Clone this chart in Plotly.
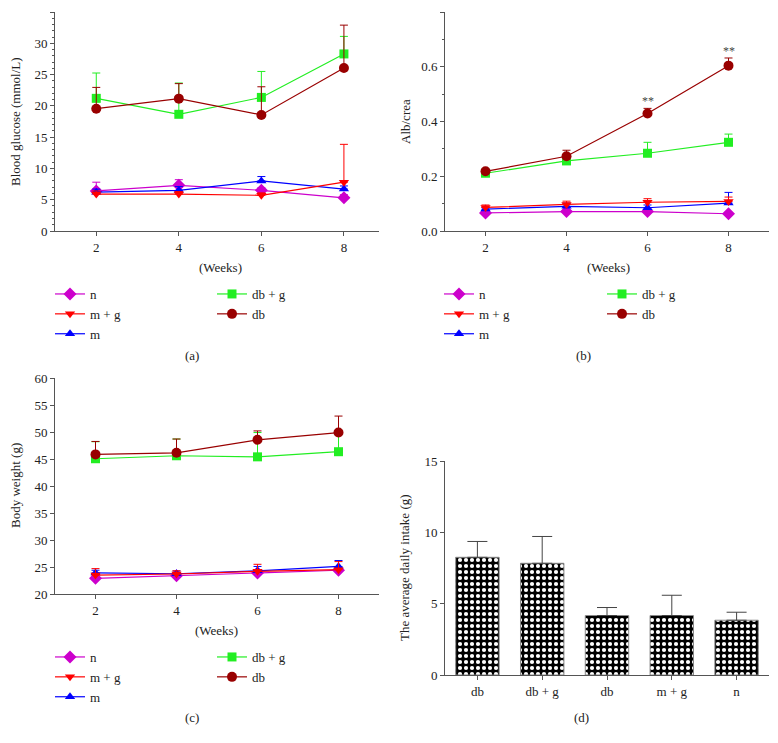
import plotly.graph_objects as go
from plotly.subplots import make_subplots

weeks = [2, 4, 6, 8]

# (a) Blood glucose (mmol/L): means and upper error (SD)
glu_n = [6.4, 7.3, 6.5, 5.3]
glu_n_err = [1.4, 0.9, 0.4, 0.5]
glu_mg = [5.9, 5.9, 5.7, 7.8]
glu_mg_err = [0.5, 0.4, 0.4, 6.05]
glu_m = [6.2, 6.5, 8.0, 6.7]
glu_m_err = [0.5, 0.6, 0.7, 0.5]
glu_dbg = [21.2, 18.65, 21.35, 28.3]
glu_dbg_err = [4.05, 5.0, 4.15, 2.8]
glu_db = [19.55, 21.15, 18.55, 26.05]
glu_db_err = [3.4, 2.4, 4.5, 6.85]

# (b) Alb/crea
alb_n = [0.066, 0.071, 0.071, 0.063]
alb_n_err = [0.005, 0.005, 0.005, 0.005]
alb_mg = [0.086, 0.097, 0.105, 0.108]
alb_mg_err = [0.009, 0.012, 0.013, 0.016]
alb_m = [0.080, 0.090, 0.085, 0.102]
alb_m_err = [0.006, 0.012, 0.010, 0.039]
alb_dbg = [0.211, 0.256, 0.284, 0.324]
alb_dbg_err = [0.005, 0.008, 0.040, 0.030]
alb_db = [0.218, 0.273, 0.429, 0.604]
alb_db_err = [0.006, 0.022, 0.019, 0.028]
alb_star_x = [6, 8]
alb_star_y = [0.474, 0.656]
alb_star_text = ["**", "**"]

# (c) Body weight (g)
bw_n = [22.9, 23.4, 23.9, 24.4]
bw_n_err = [0.3, 0.3, 0.3, 0.3]
bw_mg = [23.5, 23.7, 24.2, 24.5]
bw_mg_err = [1.2, 0.6, 1.3, 1.5]
bw_m = [23.9, 23.75, 24.3, 25.1]
bw_m_err = [0.5, 0.5, 0.8, 1.1]
bw_dbg = [45.05, 45.6, 45.4, 46.35]
bw_dbg_err = [3.15, 3.1, 4.5, 3.6]
bw_db = [45.85, 46.15, 48.55, 49.9]
bw_db_err = [2.4, 2.55, 1.65, 3.05]

# (d) Average daily intake (g)
intake_labels = ["db", "db + g", "db", "m + g", "n"]
intake_values = [8.25, 7.83, 4.17, 4.17, 3.84]
intake_err = [1.11, 1.88, 0.56, 1.42, 0.56]

group_names = ["n", "m + g", "m", "db + g", "db"]
group_colors = ["#CC00CC", "#FF0000", "#0000FF", "#22EE22", "#990000"]
group_symbols = ["diamond", "triangle-down", "triangle-up", "square", "circle"]
group_sizes = [10, 9, 9, 9, 10]

FONT = "'Liberation Serif', 'Times New Roman', Times, serif"
AX = "#555555"
TXT = "#222222"

# page body has an 8px default margin; figure is sized/positioned to compensate
OFF = 8
FW, FH = 778 - 2 * OFF, 743 - 2 * OFF

def px_x(px):
    return (px - OFF) / FW

def px_y(py):
    return 1 - (py - OFF) / FH

def xd(a, b):
    return [px_x(a), px_x(b)]

def yd(top, bot):
    return [px_y(bot), px_y(top)]

fig = make_subplots(rows=2, cols=2)

panels = [
    (1, 1, [(glu_n, glu_n_err), (glu_mg, glu_mg_err), (glu_m, glu_m_err),
            (glu_dbg, glu_dbg_err), (glu_db, glu_db_err)], "legend", "legend2"),
    (1, 2, [(alb_n, alb_n_err), (alb_mg, alb_mg_err), (alb_m, alb_m_err),
            (alb_dbg, alb_dbg_err), (alb_db, alb_db_err)], "legend3", "legend4"),
    (2, 1, [(bw_n, bw_n_err), (bw_mg, bw_mg_err), (bw_m, bw_m_err),
            (bw_dbg, bw_dbg_err), (bw_db, bw_db_err)], "legend5", "legend6"),
]

draw_order = [3, 4, 0, 2, 1]
for row, col, series, lgA, lgB in panels:
    for i in draw_order:
        vals, err = series[i]
        fig.add_trace(go.Scatter(
            x=weeks, y=vals, name=group_names[i], mode="lines+markers",
            line=dict(color=group_colors[i], width=1.2),
            marker=dict(symbol=group_symbols[i], size=group_sizes[i], color=group_colors[i],
                        line=dict(width=0)),
            error_y=dict(type="data", symmetric=False, array=err, arrayminus=[0] * len(err),
                         color=group_colors[i], thickness=1, width=4),
            legend=lgA if i < 3 else lgB,
            legendrank=i,
            showlegend=True,
        ), row=row, col=col)

fig.add_trace(go.Bar(
    x=list(range(len(intake_labels))), y=intake_values, width=0.67,
    marker=dict(color="black", line=dict(color="#888888", width=1),
                pattern=dict(shape=".", fgcolor="white", bgcolor="black", size=6, solidity=0.38,
                             fillmode="replace")),
    error_y=dict(type="data", symmetric=False, array=intake_err, arrayminus=[0] * len(intake_err),
                 color="#444444", thickness=1, width=10),
    showlegend=False,
), row=2, col=2)

axis_common = dict(showline=True, linecolor=AX, linewidth=1, ticks="outside", ticklen=4,
                   tickcolor=AX, showgrid=False, zeroline=False, automargin=False,
                   tickfont=dict(family=FONT, size=13, color=TXT))

fig.update_layout(
    width=FW, height=FH, margin=dict(l=0, r=0, t=0, b=0),
    paper_bgcolor="white", plot_bgcolor="white",
    font=dict(family=FONT, size=13, color=TXT),
    xaxis=dict(domain=xd(55, 379), range=[1, 8.85], tickvals=weeks, **axis_common),
    yaxis=dict(domain=yd(12, 231), range=[0, 35], dtick=5,
               minor=dict(dtick=1, ticklen=2, ticks="outside", tickcolor=AX), **axis_common),
    xaxis2=dict(domain=xd(445, 769), range=[1, 9], tickvals=weeks, **axis_common),
    yaxis2=dict(domain=yd(12, 231), range=[0, 0.8], dtick=0.2, tickformat=".1f",
                minor=dict(dtick=0.1, ticklen=2, ticks="outside", tickcolor=AX), **axis_common),
    xaxis3=dict(domain=xd(55, 379), range=[1, 9], tickvals=weeks, **axis_common),
    yaxis3=dict(domain=yd(378, 594), range=[20, 60], dtick=5, **axis_common),
    xaxis4=dict(domain=xd(445, 769), range=[-0.5, 4.5],
                tickvals=list(range(len(intake_labels))), ticktext=intake_labels, **axis_common),
    yaxis4=dict(domain=yd(461, 675), range=[0, 15], dtick=5, **axis_common),
)

leg_common = dict(bgcolor="rgba(0,0,0,0)", font=dict(family=FONT, size=13, color=TXT),
                  xanchor="left", yanchor="top", tracegroupgap=0, itemwidth=30,
                  orientation="v")
legend_pos = {
    "legend": (50, 279), "legend2": (212, 279),
    "legend3": (439, 279), "legend4": (602, 279),
    "legend5": (50, 642), "legend6": (212, 642),
}
for name, (px, py) in legend_pos.items():
    fig.update_layout({name: dict(x=px_x(px), y=px_y(py), **leg_common)})

for sx, sy, st in zip(alb_star_x, alb_star_y, alb_star_text):
    fig.add_annotation(x=sx, y=sy, text=st, xref="x2", yref="y2", showarrow=False,
                       font=dict(family=FONT, size=12, color="#444444"))

# axis titles and panel labels as paper-positioned text
texts = [
    ("(Weeks)", 220, 267, 0), ("(Weeks)", 608, 267, 0), ("(Weeks)", 217, 630, 0),
    ("Blood glucose (mmol/L)", 15, 122, -90), ("Alb/crea", 405, 122, -90),
    ("Body weight (g)", 15, 486, -90), ("The average daily intake (g)", 404, 568, -90),
    ("(a)", 192, 355, 0), ("(b)", 583, 355, 0), ("(c)", 192, 717, 0), ("(d)", 581, 717, 0),
]
for t, px, py, ang in texts:
    fig.add_annotation(x=px_x(px), y=px_y(py), xref="paper", yref="paper", text=t,
                       textangle=ang, showarrow=False, xanchor="center", yanchor="middle",
                       font=dict(family=FONT, size=13, color=TXT))

fig.write_html("out.html")
